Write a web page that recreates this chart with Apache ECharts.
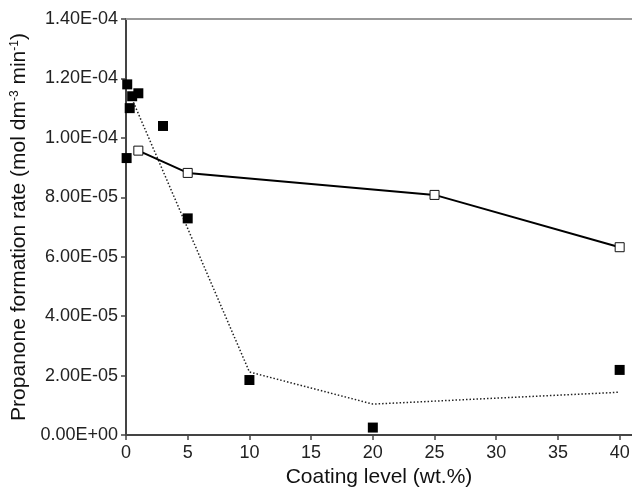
<!DOCTYPE html>
<html>
<head>
<meta charset="utf-8">
<script src="https://cdn.jsdelivr.net/npm/echarts@6/dist/echarts.min.js"></script>
<style>
html,body{margin:0;padding:0;background:#fff;}
#chart{width:632px;height:487px;}
</style>
</head>
<body>
<div id="chart"></div>
<script>
// Measured rates (filled squares)
const measuredX = [0.1, 0.05, 0.3, 0.5, 1, 3, 5, 10, 20, 40];
const measuredY = [1.18e-4, 9.32e-5, 1.10e-4, 1.14e-4, 1.15e-4, 1.04e-4, 7.29e-5, 1.85e-5, 2.5e-6, 2.19e-5];
// Open squares with solid line
const openX = [1, 5, 25, 40];
const openY = [9.57e-5, 8.82e-5, 8.08e-5, 6.32e-5];
// Dotted trend line
const dottedX = [0.6, 10, 20, 40];
const dottedY = [1.12e-4, 2.12e-5, 1.04e-5, 1.44e-5];

const xTicks = [0, 5, 10, 15, 20, 25, 30, 35, 40];

function pairs(xs, ys) { return xs.map((x, i) => [x, ys[i]]); }

function sci(v) {
  if (Math.abs(v) < 1e-12) return '0.00E+00';
  const s = v.toExponential(2); // e.g. 1.40e-4
  const m = s.split('e');
  const e = parseInt(m[1], 10);
  const sign = e < 0 ? '-' : '+';
  const ae = Math.abs(e);
  return m[0] + 'E' + sign + (ae < 10 ? '0' + ae : '' + ae);
}

const font = "'Liberation Sans', Arial, sans-serif";
const chart = echarts.init(document.getElementById('chart'), null, {renderer: 'canvas'});
chart.setOption({
  animation: false,
  backgroundColor: '#fff',
  grid: {left: 126, right: 0, top: 19, bottom: 52, containLabel: false, outerBoundsMode: 'none'},
  xAxis: [{
    type: 'value',
    min: 0, max: 41, interval: 5,
    name: 'Coating level (wt.%)',
    nameLocation: 'middle',
    nameGap: 28,
    nameTextStyle: {fontSize: 21, color: '#111', fontFamily: font},
    axisLine: {lineStyle: {color: '#444', width: 2}},
    axisTick: {show: true, length: 5, lineStyle: {color: '#444', width: 1.5},
      customValues: xTicks},
    axisLabel: {fontSize: 18, color: '#222', fontFamily: font, margin: 9,
      customValues: xTicks,
      formatter: v => String(v)},
    splitLine: {show: false}
  }, {
    type: 'value', position: 'top',
    min: 0, max: 41,
    axisLine: {show: true, lineStyle: {color: '#999', width: 2}},
    axisTick: {show: false}, axisLabel: {show: false}, splitLine: {show: false}
  }],
  yAxis: {
    type: 'value',
    min: 0, max: 1.4e-4, interval: 2e-5,
    name: '{n|Propanone formation rate (mol dm}{s|-3}{n| min}{s|-1}{n|)}',
    nameLocation: 'middle',
    nameGap: 87,
    nameTextStyle: {
      fontFamily: font, color: '#111',
      rich: {
        n: {fontSize: 21, fontFamily: font, color: '#111'},
        s: {fontSize: 12, fontFamily: font, color: '#111', verticalAlign: 'top'}
      }
    },
    axisLine: {show: true, lineStyle: {color: '#444', width: 2}},
    axisTick: {show: true, length: 5, lineStyle: {color: '#444', width: 1.5}},
    axisLabel: {fontSize: 18, color: '#222', fontFamily: font, margin: 8, formatter: sci},
    splitLine: {show: false}
  },
  series: [
    {
      type: 'line',
      data: pairs(dottedX, dottedY),
      symbol: 'none',
      lineStyle: {color: '#222', width: 1.5, type: [1.5, 2]},
      z: 2
    },
    {
      type: 'line',
      data: pairs(openX, openY),
      symbol: 'rect', symbolSize: 9,
      showSymbol: true,
      lineStyle: {color: '#000', width: 2},
      itemStyle: {color: '#fff', borderColor: '#111', borderWidth: 1},
      z: 3
    },
    {
      type: 'scatter',
      data: pairs(measuredX, measuredY),
      symbol: 'rect', symbolSize: 10,
      itemStyle: {color: '#000', opacity: 1},
      clip: false,
      z: 4
    }
  ]
});
</script>
</body>
</html>
